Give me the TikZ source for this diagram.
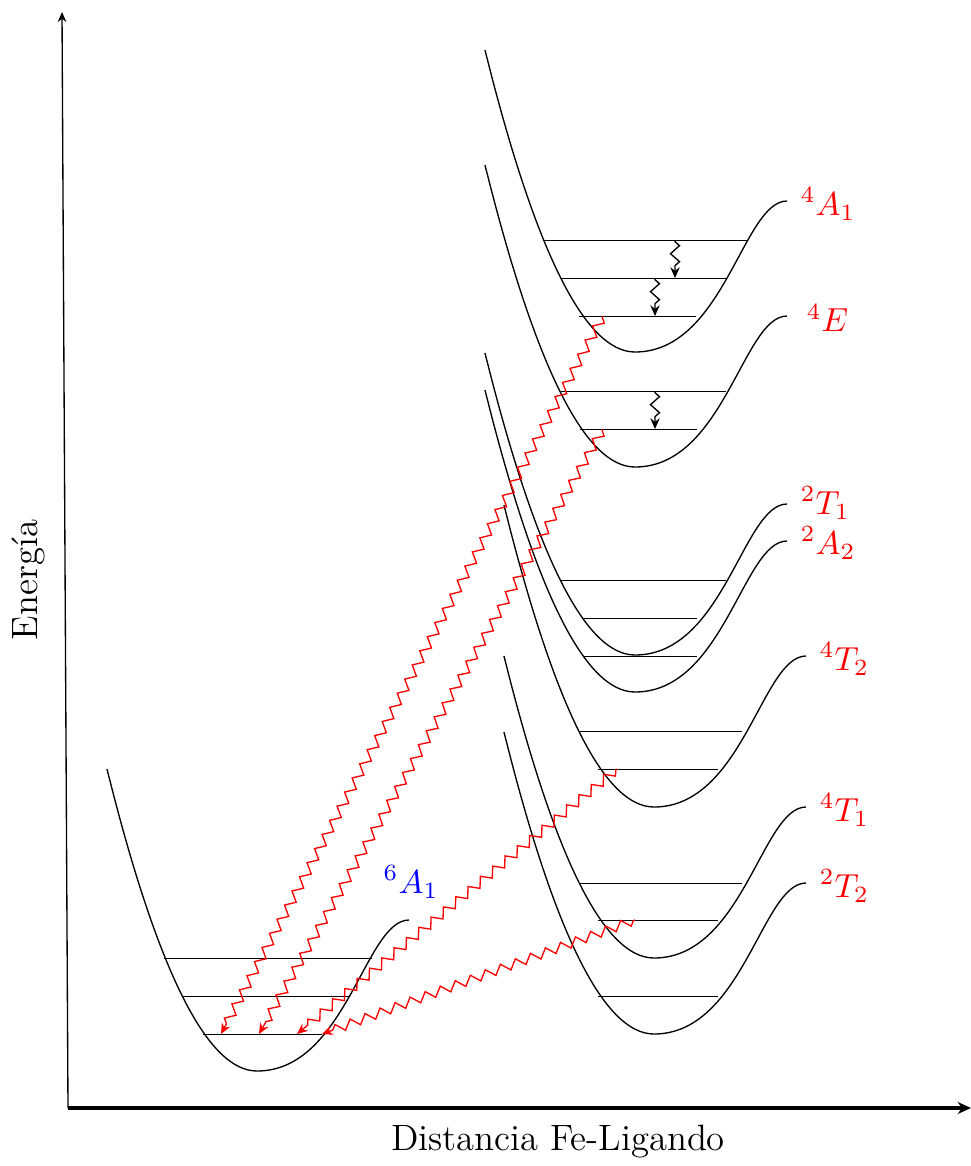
\documentclass[tikz,border=0pt]{standalone}
\usetikzlibrary{decorations.pathmorphing,arrows.meta}
\newcommand\pes[3][]{%
  \draw[pescurve,#1] (#2,#3) .. controls (#2+50,#3+201.3) and (#2+100,#3+302) .. (#2+150,#3+302)
     .. controls (#2+239,#3+302) and (#2+258,#3+151) .. (#2+302,#3+151) coordinate (end-#2-#3);}
\begin{document}
\begin{tikzpicture}[x=0.3pt,y=-0.3pt,
  pescurve/.style={line width=0.4pt,black},
  nivel/.style={line width=0.4pt,black},
  relax/.style={decorate,decoration={zigzag,segment length=4.8pt,amplitude=1.35pt,pre length=0.5pt,post length=3pt},
     -{Stealth[length=3.2pt,width=2.8pt]},line width=0.4pt},
  emis/.style={relax,red},
  estado/.style={red,font=\fontsize{10}{12}\selectfont,anchor=west},
  axlab/.style={font=\fontsize{11}{13}\selectfont}]
\useasboundingbox (0,0) rectangle (971,1166);
% axes
\coordinate (O) at (68,1108);
\coordinate (ytop) at (62,12);
\coordinate (xend) at (971,1108);
\draw[line width=0.4pt,-{Stealth[length=3pt,width=2.6pt]}] (O) -- (ytop);
\draw[line width=1.2pt,-{Stealth[length=4pt,width=3.6pt]}] (O) -- (xend);
\node[axlab,rotate=90] (ylab) at (28,580) {Energía};
\node[axlab] (xlab) at (558,1142) {Distancia Fe-Ligando};
% potential curves
\pes{107}{769}
\pes{485}{50}
\pes{485}{165}
\pes{485}{353}
\pes{485}{390}
\pes{504}{505}
\pes{504}{656}
\pes{504}{732}
% vibrational levels
\draw[nivel] (164,958.5) -- (372,958.5);
\draw[nivel] (183,996.5) -- (350,996.5);
\draw[nivel] (203,1034.5) coordinate (g0L) -- (322,1034.5) coordinate (g0R);
\draw[nivel] (543,240.5) -- (748,240.5);
\draw[nivel] (561,278.5) -- (726,278.5);
\draw[nivel] (579,316.5) -- (696,316.5);
\draw[nivel] (561,391.5) -- (726,391.5);
\draw[nivel] (580,429.5) -- (697,429.5);
\draw[nivel] (561,580.5) -- (726,580.5);
\draw[nivel] (583,618.5) -- (697,618.5);
\draw[nivel] (583,656.5) -- (697,656.5);
\draw[nivel] (580,731.5) -- (742,731.5);
\draw[nivel] (598,769.5) -- (718,769.5);
\draw[nivel] (580,883.5) -- (742,883.5);
\draw[nivel] (598,920.5) -- (718,920.5);
\draw[nivel] (598,996.5) -- (718,996.5);
% labels
\node[estado] (l4A1) at (789,204) {$^4A_1$};
\node[estado] (l4E) at (795,318) {$^4E$};
\node[estado] (l2T1) at (789,503) {$^2T_1$};
\node[estado] (l2A2) at (789,543) {$^2A_2$};
\node[estado] (l4T2) at (808,659) {$^4T_2$};
\node[estado] (l4T1) at (808,810) {$^4T_1$};
\node[estado] (l2T2) at (808,886) {$^2T_2$};
\node[estado,blue,anchor=center] (l6A1) at (411,882) {$^6A_1$};
% relaxation arrows
\coordinate (r1a) at (675,240); \coordinate (r1b) at (675,278);
\coordinate (r2a) at (655,278); \coordinate (r2b) at (655,316);
\coordinate (r3a) at (655,391); \coordinate (r3b) at (655,429);
\draw[relax] (r1a) -- (r1b);
\draw[relax] (r2a) -- (r2b);
\draw[relax] (r3a) -- (r3b);
% emission arrows
\coordinate (eA1) at (603,316); \coordinate (eA2) at (221,1034);
\coordinate (eB1) at (603,429); \coordinate (eB2) at (259,1034);
\coordinate (eC1) at (617,769); \coordinate (eC2) at (297,1034);
\coordinate (eD1) at (635,920); \coordinate (eD2) at (322,1034);
\draw[emis] (eA1) -- (eA2);
\draw[emis] (eB1) -- (eB2);
\draw[emis] (eC1) -- (eC2);
\draw[emis] (eD1) -- (eD2);
\end{tikzpicture}
\end{document}
